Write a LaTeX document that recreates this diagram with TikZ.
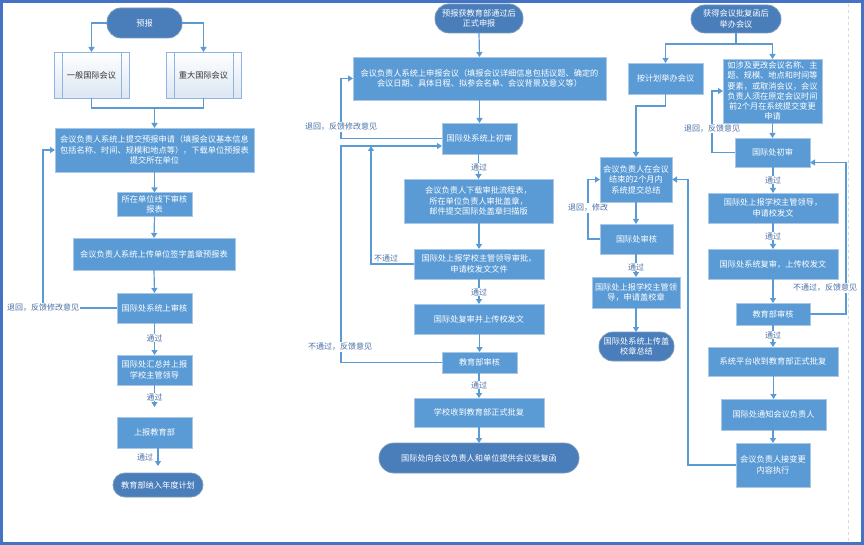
\documentclass[tikz,border=0pt]{standalone}
\usepackage{fontspec}
\setmainfont{Noto Sans CJK SC}
\usetikzlibrary{arrows.meta}
\definecolor{boxblue}{HTML}{5B9BD5}
\definecolor{termblue}{HTML}{4A7EBB}
\definecolor{termedge}{HTML}{41719C}
\definecolor{edgeblue}{HTML}{A9C8E8}
\definecolor{linkblue}{HTML}{5B9BD5}
\definecolor{labblue}{HTML}{4A6FA5}
\definecolor{framec}{HTML}{4472C4}
\definecolor{preedge}{HTML}{8EB4E3}
\definecolor{prefill}{HTML}{DCE6F2}
\begin{document}
\begin{tikzpicture}[x=1pt,y=-1pt,
  every node/.style={inner sep=0pt, outer sep=0pt},
  box/.style={rectangle, fill=boxblue, draw=edgeblue, line width=0.8pt, text=white, align=center, font=\fontsize{8.2}{10.5}\selectfont},
  term/.style={rectangle, fill=termblue, draw=termedge!70, line width=0.8pt, text=white, align=center, font=\fontsize{8.2}{10.5}\selectfont, rounded corners=#1},
  term/.default=14pt,
  prebox/.style={rectangle, draw=preedge, top color=white, bottom color=prefill, line width=0.8pt, text=black!80, align=center, font=\fontsize{8.2}{10.5}\selectfont},
  link/.style={draw=linkblue, line width=1.2pt},
  arr/.style={link, -{Triangle[length=5pt,width=6pt]}},
  lab/.style={text=labblue, font=\fontsize{8}{10}\selectfont, fill=white, inner sep=0.8pt},
]
\useasboundingbox (0,0) rectangle (864,545);
\draw[black!15, dashed, line width=0.6pt] (848,4) -- (848,541);

% ---------------- left column ----------------
\node[term, minimum width=75, minimum height=30] (L0) at (144.5,23) {预报};
\node[prebox, minimum width=75, minimum height=46] (L1a) at (91.5,75) {一般国际会议};
\node[prebox, minimum width=75, minimum height=46] (L1b) at (203.5,75) {重大国际会议};
\foreach \n in {L1a,L1b}{
  \draw[preedge, line width=0.8pt] ([xshift=8pt]\n.north west) -- ([xshift=8pt]\n.south west);
  \draw[preedge, line width=0.8pt] ([xshift=-8pt]\n.north east) -- ([xshift=-8pt]\n.south east);
}
\node[box, minimum width=199, minimum height=44] (L2) at (154.5,150) {会议负责人系统上提交预报申请（填报会议基本信息\\包括名称、时间、规模和地点等），下载单位预报表\\提交所在单位};
\node[box, minimum width=75, minimum height=24, font=\fontsize{8.2}{10}\selectfont] (L3) at (154.5,204.5) {所在单位线下审核\\报表};
\node[box, minimum width=162, minimum height=32] (L4) at (154,254) {会议负责人系统上传单位签字盖章预报表};
\node[box, minimum width=75, minimum height=30] (L5) at (154.5,308) {国际处系统上审核};
\node[box, minimum width=75, minimum height=30] (L6) at (154.5,370) {国际处汇总并上报\\学校主管领导};
\node[box, minimum width=75, minimum height=31] (L7) at (154.5,432.5) {上报教育部};
\node[term=12pt, minimum width=90, minimum height=24] (L8) at (158,485) {教育部纳入年度计划};

\draw[arr] (L0.west) -| (L1a.north);
\draw[arr] (L0.east) -| (L1b.north);
\coordinate (lj) at (154.5,108);
\draw[link] (L1a.south) |- (lj) -| (L1b.south);
\draw[arr] (lj) -- (L2.north);
\draw[arr] (L2.south) -- (L3.north);
\draw[arr] (L3.south) -- (L4.north);
\draw[arr] (L4.south) -- (L5.north);
\draw[arr] (L5.west) -- (43,308) |- (L2.west);
\node[lab] at (43,308) {退回，反馈修改意见};
\draw[arr] (L5.south) -- (L6.north);
\node[lab] at (154.5,338) {通过};
\draw[arr, shorten >=10pt] (L6.south) -- (L7.north);
\node[lab] at (154.5,397) {通过};
\draw[arr, shorten >=7pt] (L7.south -| L8.north) -- (L8.north);
\node[lab] at (145,457) {通过};

% ---------------- middle column ----------------
\node[term, minimum width=88, minimum height=29] (M0) at (479,18.5) {预报获教育部通过后\\正式申报};
\node[box, minimum width=253, minimum height=43] (M1) at (479.5,78.5) {会议负责人系统上申报会议（填报会议详细信息包括议题、确定的\\会议日期、具体日程、拟参会名单、会议背景及意义等）};
\node[box, minimum width=75, minimum height=31] (M2) at (479.5,138.5) {国际处系统上初审};
\node[box, minimum width=149, minimum height=44] (M3) at (478.5,201) {会议负责人下载审批流程表，\\所在单位负责人审批盖章，\\邮件提交国际处盖章扫描版};
\node[box, minimum width=130, minimum height=30] (M4) at (479,264) {国际处上报学校主管领导审批，\\申请校发文文件};
\node[box, minimum width=130, minimum height=30] (M5) at (479,319) {国际处复审并上传校发文};
\node[box, minimum width=75, minimum height=21] (M6) at (479.5,362.5) {教育部审核};
\node[box, minimum width=130, minimum height=29] (M7) at (479,412.5) {学校收到教育部正式批复};
\node[term=15pt, minimum width=200, minimum height=30] (M8) at (479,458) {国际处向会议负责人和单位提供会议批复函};

\draw[arr] (M0.south) -- (M1.north);
\draw[arr] (M1.south -| M2.north) -- (M2.north);
\draw[arr] (M2.west) -- (341,138.5) |- (M1.west);
\node[lab] at (341,127) {退回，反馈修改意见};
\draw[arr] (M2.south -| M3.north) -- (M3.north);
\node[lab] at (479,167) {通过};
\draw[arr] (M3.south -| M4.north) -- (M4.north);
\draw[arr] (M4.west) -- (371,264) -- (371,146);
\node[text=labblue, font=\fontsize{8}{10}\selectfont] at (386,258) {不通过};
\draw[arr] (M4.south) -- (M5.north);
\node[lab] at (479,292) {通过};
\draw[arr] (M5.south -| M6.north) -- (M6.north);
\draw[arr] (M6.west) -- (341,362.5) -- (341,146) -- ([yshift=-7.5pt]M2.west);
\node[lab] at (340,347) {不通过，反馈意见};
\draw[arr] (M6.south -| M7.north) -- (M7.north);
\node[lab] at (479,385) {通过};
\draw[arr] (M7.south) -- (M8.north);

% ---------------- right column ----------------
\node[term, minimum width=90, minimum height=28] (R0) at (736,19) {获得会议批复函后\\举办会议};
\node[box, minimum width=75, minimum height=31] (R1) at (665.5,78.5) {按计划举办会议};
\node[box, minimum width=99, minimum height=64, font=\fontsize{8.2}{10.2}\selectfont] (R2) at (772.5,91) {如涉及更改会议名称、主\\题、规模、地点和时间等\\要素，或取消会议，会议\\负责人须在原定会议时间\\前2个月在系统提交变更\\申请};
\node[box, minimum width=72, minimum height=45] (R3) at (636,179.5) {会议负责人在会议\\结束的2个月内\\系统提交总结};
\node[box, minimum width=73, minimum height=30] (R4) at (636.5,239) {国际处审核};
\node[box, minimum width=88, minimum height=31] (R5) at (636,292.5) {国际处上报学校主管领\\导，申请盖校章};
\node[term, minimum width=75, minimum height=29] (R6) at (636.5,346.5) {国际处系统上传盖\\校章总结};
\node[box, minimum width=75, minimum height=29] (R7) at (772.5,152.5) {国际处初审};
\node[box, minimum width=130, minimum height=30] (R8) at (773,208) {国际处上报学校主管领导，\\申请校发文};
\node[box, minimum width=130, minimum height=30] (R9) at (773,264) {国际处系统复审，上传校发文};
\node[box, minimum width=74, minimum height=22] (R10) at (773,314) {教育部审核};
\node[box, minimum width=130, minimum height=29] (R11) at (773,361.5) {系统平台收到教育部正式批复};
\node[box, minimum width=105, minimum height=31] (R12) at (773.5,414.5) {国际处通知会议负责人};
\node[box, minimum width=74, minimum height=44] (R13) at (773,465) {会议负责人接变更\\内容执行};

\draw[link] (R0.south) -- ++(0,11) coordinate (rj);
\draw[arr] (rj) -| (R1.north);
\draw[arr] (rj) -| (R2.north);
\draw[arr] (R1.south) -- ++(0,12) -| (R3.north);
\draw[arr] (R3.south) -- (R4.north -| R3.south);
\draw[arr] (R4.west) -- (588,239) |- (R3.west);
\node[lab] at (588,208) {退回，修改};
\draw[arr] (R4.south -| R5.north) -- (R5.north);
\node[lab] at (636,267) {通过};
\draw[arr] (R5.south) -- (R6.north -| R5.south);
\draw[arr] (R13.west) -- (688,465) |- (R3.east);

\draw[arr] (R2.south) -- (R7.north);
\draw[arr] (R7.west) -- (712,152.5) |- (R2.west);
\node[lab] at (712,128.5) {退回，反馈意见};
\draw[arr] (R7.south -| R8.north) -- (R8.north);
\node[lab] at (773,180) {通过};
\draw[arr] (R8.south) -- (R9.north);
\node[lab] at (773,236) {通过};
\draw[arr] (R9.south) -- (R10.north);
\draw[arr] (R10.east) -- (846,314) |- ([yshift=-10pt]R7.east);
\node[lab] at (825,288) {不通过，反馈意见};
\draw[arr] (R10.south) -- (R11.north);
\node[lab] at (773,335) {通过};
\draw[arr] (R11.south -| R12.north) -- (R12.north);
\draw[arr] (R12.south -| R13.north) -- (R13.north);

\draw[framec, line width=3pt] (1.5,1.5) rectangle (862.5,543.5);
\end{tikzpicture}
\end{document}
